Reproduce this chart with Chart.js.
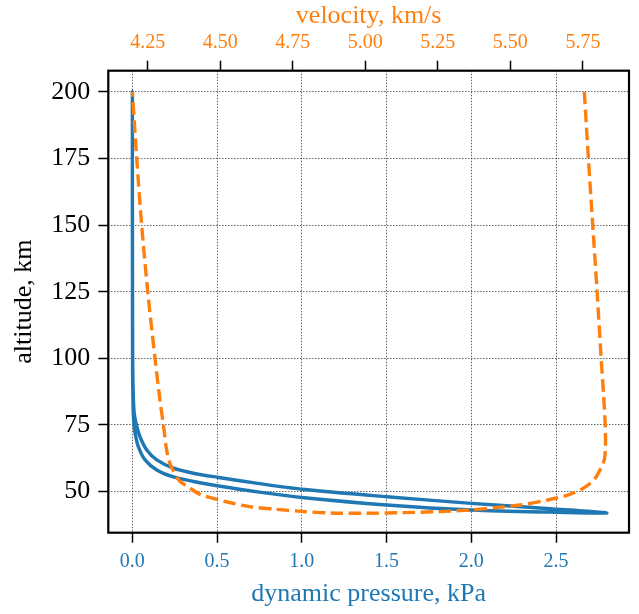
<!DOCTYPE html>
<html>
<head>
<meta charset="utf-8">
<script src="https://cdn.jsdelivr.net/npm/chart.js@4"></script>
<style>
  html, body { margin: 0; padding: 0; background: #fff; }
</style>
</head>
<body>
<canvas id="chart" width="639" height="614"></canvas>
<script>
// dynamic pressure along the trajectory: down to the lowest point, then back up
var qAltitude = [200, 175, 150, 125, 100, 90, 80, 75, 70.6, 65.6, 61.9, 58.8, 56.9, 55.4, 53.0, 50.9, 48.1, 45.6, 43.6, 42.0,
                 42.3, 43.1, 45.0, 47.8, 49.8, 52.2, 53.8, 55.5, 58.1, 61.9, 66.9, 71.9, 75, 80, 90, 100, 125, 150, 175, 200];
var qValues = [0, 0, 0.0005, 0.001, 0.002, 0.004, 0.01, 0.024, 0.045, 0.085, 0.144, 0.242, 0.36, 0.5, 0.75, 1.0, 1.5, 2.0, 2.464, 2.80,
               2.464, 2.0, 1.5, 1.0, 0.75, 0.5, 0.36, 0.242, 0.144, 0.075, 0.035, 0.016, 0.01, 0.005, 0.002, 0.001, 0.0005, 0, 0, 0];

// velocity along the same trajectory
var velAltitude = [200, 175, 150, 125, 100, 85, 75, 67, 62, 59.5, 55, 51.5, 48.8, 46.8, 45.0, 44.0, 43.1, 42.5, 42.1, 41.9,
                   42.0, 42.6, 43.4, 44.4, 46.2, 47.1, 49.0, 51.3, 54.0, 58.5, 61, 65.6, 75, 84.4, 100, 125, 150, 175, 200];
var velValues = [5.755, 5.769, 5.784, 5.799, 5.813, 5.822, 5.827, 5.828, 5.824, 5.815, 5.792, 5.755, 5.70, 5.626, 5.534, 5.45, 5.36, 5.25, 5.12, 5.0,
                 4.88, 4.78, 4.69, 4.60, 4.52, 4.488, 4.43, 4.396, 4.36, 4.335, 4.325, 4.315, 4.304, 4.292, 4.275, 4.25, 4.229, 4.212, 4.197];

var qTicks = [0, 0.5, 1.0, 1.5, 2.0, 2.5];
var velTicks = [4.25, 4.50, 4.75, 5.00, 5.25, 5.50, 5.75];
var altTicks = [50, 75, 100, 125, 150, 175, 200];

var blue = '#1f77b4';
var orange = '#ff7f0e';

Chart.defaults.font.family = '"Liberation Serif", "DejaVu Serif", serif';
Chart.defaults.color = '#000';

function toPoints(xs, ys) {
  return xs.map(function (x, i) { return { x: x, y: ys[i] }; });
}

function fixTicks(values) {
  return function (scale) {
    scale.ticks = values.map(function (v) { return { value: v }; });
  };
}

function gridOpts(onChart) {
  return {
    drawOnChartArea: onChart,
    color: 'rgba(0, 0, 0, 0.75)',
    lineWidth: 0.8,
    borderDash: [1.5, 1.5],
    tickColor: '#000',
    tickWidth: 1.5,
    tickLength: 10,
    tickBorderDash: []
  };
}

// frame round the plot area
var framePlugin = {
  id: 'frame',
  afterDatasetsDraw: function (chart) {
    var a = chart.chartArea;
    var ctx = chart.ctx;
    ctx.save();
    ctx.lineWidth = 2.2;
    ctx.strokeStyle = '#000';
    ctx.strokeRect(a.left, a.top, a.right - a.left, a.bottom - a.top);
    ctx.restore();
  }
};

var ctx = document.getElementById('chart').getContext('2d');
new Chart(ctx, {
  type: 'scatter',
  data: {
    datasets: [{
      label: 'dynamic pressure',
      data: toPoints(qValues, qAltitude),
      xAxisID: 'x',
      yAxisID: 'y',
      showLine: true,
      borderColor: blue,
      borderWidth: 3.4,
      pointRadius: 0,
      tension: 0.3,
      borderCapStyle: 'round',
      borderJoinStyle: 'round',
      order: 2
    }, {
      label: 'velocity',
      data: toPoints(velValues, velAltitude),
      xAxisID: 'xTop',
      yAxisID: 'y',
      showLine: true,
      borderColor: orange,
      borderWidth: 3.4,
      borderDash: [12.5, 5.5],
      pointRadius: 0,
      tension: 0.3,
      order: 1
    }]
  },
  options: {
    responsive: false,
    animation: false,
    layout: { padding: { left: 0, right: 10, top: 0, bottom: 0 } },
    plugins: {
      legend: { display: false },
      tooltip: { enabled: false }
    },
    scales: {
      x: {
        type: 'linear',
        position: 'bottom',
        min: -0.142,
        max: 2.930,
        afterBuildTicks: fixTicks(qTicks),
        afterFit: function (s) { s.height = 81.3; },
        grid: gridOpts(true),
        border: { display: false, dash: [1.5, 1.5] },
        ticks: {
          color: blue,
          font: { size: 20 },
          padding: 7,
          maxRotation: 0,
          callback: function (v) { return v.toFixed(1); }
        },
        title: {
          display: true,
          text: 'dynamic pressure, kPa',
          color: blue,
          font: { size: 26, lineHeight: 1.1 },
          padding: { top: 0, bottom: 5.8 }
        }
      },
      xTop: {
        type: 'linear',
        position: 'top',
        min: 4.114,
        max: 5.909,
        afterBuildTicks: fixTicks(velTicks),
        afterFit: function (s) { s.height = 70.7; },
        grid: gridOpts(false),
        border: { display: false, dash: [1.5, 1.5] },
        ticks: {
          color: orange,
          font: { size: 20 },
          padding: 6,
          maxRotation: 0,
          callback: function (v) { return v.toFixed(2); }
        },
        title: {
          display: true,
          text: 'velocity, km/s',
          color: orange,
          font: { size: 26, lineHeight: 1.1 },
          padding: { top: 1.5, bottom: 0 }
        }
      },
      y: {
        type: 'linear',
        position: 'left',
        min: 34.6,
        max: 207.9,
        afterBuildTicks: fixTicks(altTicks),
        afterFit: function (s) { s.width = 108.3; },
        grid: gridOpts(true),
        border: { display: false, dash: [1.5, 1.5] },
        ticks: {
          color: '#000',
          font: { size: 26 },
          padding: 8,
          callback: function (v) { return v.toFixed(0); }
        },
        title: {
          display: true,
          text: 'altitude, km',
          color: '#000',
          font: { size: 26, lineHeight: 1.1 },
          padding: { top: 9.7, bottom: 0 }
        }
      }
    }
  },
  plugins: [framePlugin]
});
</script>
</body>
</html>
